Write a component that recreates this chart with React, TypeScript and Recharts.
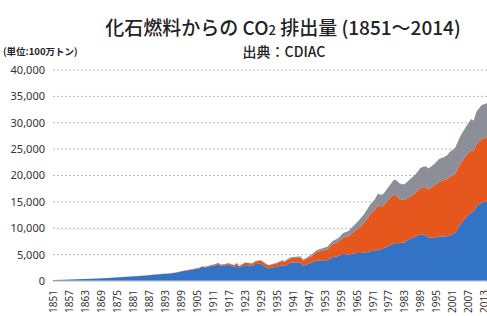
import { AreaChart, Area, XAxis, YAxis, CartesianGrid } from "recharts";

// 出典：CDIAC（単位：100万トン CO2）
const years = [
  1851, 1855, 1860, 1865, 1870, 1875, 1880, 1884, 1888, 1891, 1894, 1897, 1900,
  1903, 1906, 1907, 1908, 1910, 1912, 1913, 1914, 1916, 1917, 1919, 1920, 1921,
  1923, 1924, 1926, 1927, 1929, 1930, 1931, 1932, 1933, 1935, 1937, 1938, 1940,
  1941, 1943, 1944, 1945, 1946, 1948, 1950, 1952, 1954, 1956, 1958, 1960, 1962,
  1964, 1966, 1968, 1970, 1972, 1973, 1974, 1975, 1977, 1979, 1980, 1981, 1982,
  1983, 1985, 1987, 1989, 1990, 1991, 1992, 1994, 1996, 1998, 1999, 2000, 2002,
  2004, 2006, 2008, 2009, 2010, 2012, 2014,
];

const coal = [
  200, 250, 330, 410, 530, 680, 850, 960, 1130, 1290, 1380, 1560, 1890,
  2150, 2430, 2680, 2560, 2800, 3000, 3220, 2900, 3000, 3130, 2700, 3060, 2550,
  3050, 3000, 2880, 3200, 3260, 2950, 2620, 2380, 2500, 2700, 3000, 2850, 3400,
  3500, 3550, 3450, 2900, 3100, 3450, 3900, 3950, 3950, 4550, 4700, 5150, 4950,
  5250, 5300, 5350, 5650, 5750, 5900, 5950, 6200, 6650, 7050, 7200, 7150, 7250,
  7300, 8000, 8350, 8800, 8850, 8600, 8300, 8150, 8500, 8450, 8500, 8650, 9100,
  10700, 12000, 13000, 13200, 14100, 14900, 15100,
];

const oil = [
  0, 0, 0, 0, 5, 8, 12, 16, 25, 33, 38, 48, 60,
  75, 95, 105, 110, 155, 175, 185, 190, 215, 240, 265, 290, 300,
  380, 400, 440, 490, 620, 600, 570, 540, 570, 650, 780, 780, 860,
  880, 880, 960, 900, 1000, 1220, 1550, 1800, 2050, 2400, 2650, 3100, 3550,
  4100, 4850, 5800, 6900, 7800, 8500, 8200, 8000, 8750, 9350, 9000, 8500, 8150,
  8050, 7950, 8300, 8800, 8900, 9150, 9050, 9900, 10300, 10700, 10900, 11100, 11200,
  11600, 11700, 11800, 11500, 11800, 12000, 12200,
];

const gas = [
  0, 0, 0, 0, 0, 0, 1, 3, 8, 10, 9, 10, 11,
  14, 20, 24, 25, 33, 38, 40, 40, 45, 50, 48, 48, 45,
  60, 70, 85, 95, 120, 120, 110, 105, 105, 125, 150, 155, 180,
  190, 230, 260, 270, 280, 320, 360, 430, 510, 620, 720, 830, 980,
  1180, 1400, 1650, 1850, 2050, 2150, 2200, 2250, 2400, 2800, 2900, 2950, 2950,
  3000, 3300, 3500, 3800, 3900, 4000, 4000, 4050, 4350, 4350, 4450, 4700, 4900,
  5200, 5450, 5900, 5700, 6200, 6450, 6400,
];

const xTicks = [
  1851, 1857, 1863, 1869, 1875, 1881, 1887, 1893, 1899, 1905, 1911, 1917, 1923,
  1929, 1935, 1941, 1947, 1953, 1959, 1965, 1971, 1977, 1983, 1989, 1995, 2001,
  2007, 2013,
];

const yTicks = [0, 5000, 10000, 15000, 20000, 25000, 30000, 35000, 40000];

const data = years.map((year, i) => ({
  year,
  coal: coal[i],
  oil: oil[i],
  gas: gas[i],
}));

const jp = '"Noto Sans CJK JP", "Noto Sans", sans-serif';

function YearTick({ x, y, payload }: any) {
  const ty = y + 1;
  return (
    <text
      x={x}
      y={ty}
      transform={`rotate(-90, ${x}, ${ty})`}
      textAnchor="end"
      dominantBaseline="central"
      fontSize={10}
      fontFamily='"Noto Sans", sans-serif'
      fill="#333"
    >
      {payload.value}
    </text>
  );
}

export default function App() {
  return (
    <div
      style={{
        position: "absolute",
        left: 0,
        top: 0,
        width: 487,
        height: 316,
        background: "#fff",
        overflow: "hidden",
        fontFamily: jp,
      }}
    >
      <div
        style={{
          position: "absolute",
          left: 0,
          width: 566,
          top: 14,
          textAlign: "center",
          fontSize: 19,
          fontWeight: 500,
          lineHeight: "26px",
          color: "#222",
        }}
      >
        化石燃料からの CO<span style={{ fontSize: 13 }}>2</span> 排出量 (1851〜2014)
      </div>
      <div
        style={{
          position: "absolute",
          left: 0,
          width: 568,
          top: 41,
          textAlign: "center",
          fontSize: 14,
          fontWeight: 500,
          lineHeight: "20px",
          color: "#222",
        }}
      >
        出典：CDIAC
      </div>
      <div
        style={{
          position: "absolute",
          left: 3,
          top: 44,
          fontSize: 9.5,
          fontWeight: "bold",
          lineHeight: "14px",
          color: "#222",
        }}
      >
        (単位:100万トン)
      </div>
      <AreaChart
        width={487}
        height={316}
        data={data}
        margin={{ top: 70, right: 0, bottom: 0, left: 0 }}
      >
        <CartesianGrid
          vertical={false}
          stroke="#b8b8b8"
          strokeDasharray="2 2"
        />
        <XAxis
          dataKey="year"
          type="number"
          domain={[1851, 2014]}
          ticks={xTicks}
          interval={0}
          height={35}
          tick={<YearTick />}
          tickLine={false}
          axisLine={{ stroke: "#cfcfcf" }}
        />
        <YAxis
          width={53}
          domain={[0, 40000]}
          ticks={yTicks}
          tickFormatter={(v: number) => v.toLocaleString("en-US")}
          tick={{ fontSize: 11, fill: "#333", fontFamily: '"Noto Sans", sans-serif' }}
          tickLine={false}
          axisLine={false}
        />
        <Area
          type="linear"
          dataKey="coal"
          stackId="1"
          stroke="none"
          fill="#3273c6"
          fillOpacity={1}
          isAnimationActive={false}
        />
        <Area
          type="linear"
          dataKey="oil"
          stackId="1"
          stroke="none"
          fill="#e5571d"
          fillOpacity={1}
          isAnimationActive={false}
        />
        <Area
          type="linear"
          dataKey="gas"
          stackId="1"
          stroke="none"
          fill="#8d8f98"
          fillOpacity={1}
          isAnimationActive={false}
        />
      </AreaChart>
    </div>
  );
}
